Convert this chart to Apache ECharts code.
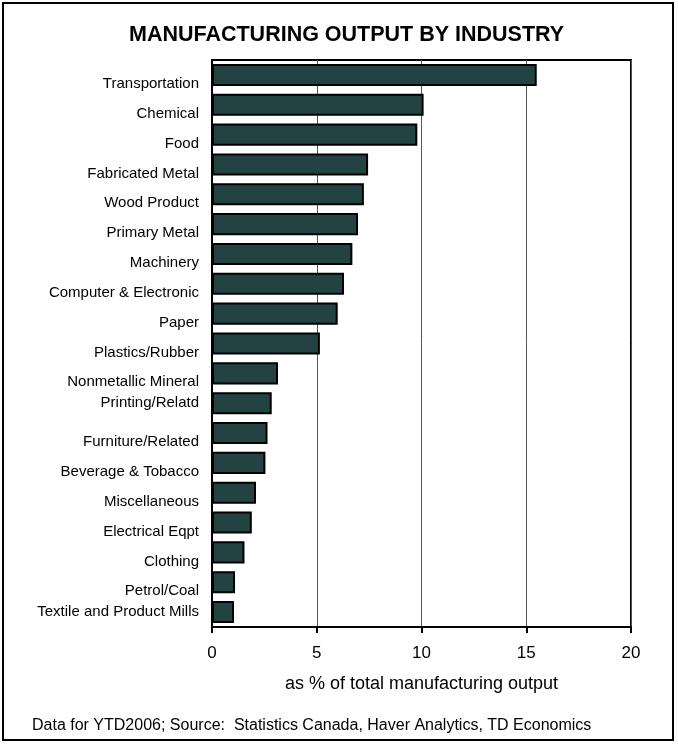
<!DOCTYPE html>
<html>
<head>
<meta charset="utf-8">
<script src="https://cdn.jsdelivr.net/npm/echarts@6/dist/echarts.min.js"></script>
<style>
  html, body { margin: 0; padding: 0; background: #fff; }
  #chart { width: 678px; height: 744px; }
</style>
</head>
<body>
<div id="chart"></div>
<script>
// Industries, largest share first
const industries = [
  'Transportation', 'Chemical', 'Food', 'Fabricated Metal', 'Wood Product',
  'Primary Metal', 'Machinery', 'Computer & Electronic', 'Paper', 'Plastics/Rubber',
  'Nonmetallic Mineral', 'Printing/Relatd', 'Furniture/Related', 'Beverage & Tobacco',
  'Miscellaneous', 'Electrical Eqpt', 'Clothing', 'Petrol/Coal', 'Textile and Product Mills'
];
// Share of total manufacturing output, %
const shares = [
  15.5, 10.1, 9.8, 7.45, 7.25,
  6.97, 6.7, 6.3, 6.0, 5.15,
  3.15, 2.85, 2.65, 2.55,
  2.1, 1.9, 1.55, 1.1, 1.05
];
// Labels that sit level with their bar; the rest sit a little lower
const levelLabels = ['Printing/Relatd', 'Textile and Product Mills'];
const xTicks = [0, 5, 10, 15, 20];

const titleText = 'MANUFACTURING OUTPUT BY INDUSTRY';
const xAxisTitle = 'as % of total manufacturing output';
const footnote = 'Data for YTD2006; Source:  Statistics Canada, Haver Analytics, TD Economics';

const FONT = '"Liberation Sans", Arial, sans-serif';
const chart = echarts.init(document.getElementById('chart'), null, { renderer: 'canvas' });

chart.setOption({
  animation: false,
  backgroundColor: '#ffffff',
  title: {
    text: titleText,
    left: 124,
    top: 19,
    textStyle: { fontFamily: FONT, fontSize: 21.5, fontWeight: 'bold', color: '#000' }
  },
  graphic: [
    {
      type: 'rect',
      shape: { x: 3, y: 3, width: 670, height: 737 },
      style: { fill: null, stroke: '#000', lineWidth: 2 },
      silent: true,
      z: -1
    },
    {
      type: 'text',
      left: 32,
      top: 718,
      style: { text: footnote, font: '16px ' + FONT, fill: '#000' }
    }
  ],
  grid: {
    left: 212, right: 47, top: 60, bottom: 117,
    show: true, borderColor: '#000', borderWidth: 2, backgroundColor: 'transparent'
  },
  xAxis: {
    type: 'value',
    min: xTicks[0],
    max: xTicks[xTicks.length - 1],
    interval: 5,
    name: xAxisTitle,
    nameLocation: 'middle',
    nameGap: 48,
    nameTextStyle: { fontFamily: FONT, fontSize: 18, color: '#000' },
    axisLine: { show: true, lineStyle: { color: '#000', width: 2 } },
    axisTick: { show: true, inside: false, length: 6, lineStyle: { color: '#000', width: 2 } },
    axisLabel: { fontFamily: FONT, fontSize: 17, color: '#000', margin: 18 },
    splitLine: { show: true, lineStyle: { color: '#555', width: 1 } }
  },
  yAxis: {
    type: 'category',
    data: industries,
    inverse: true,
    axisLine: { show: true, lineStyle: { color: '#000', width: 2 } },
    axisTick: { show: false },
    axisLabel: {
      interval: 0,
      margin: 13,
      fontFamily: FONT,
      fontSize: 15,
      color: '#000',
      formatter: function (v) {
        return (levelLabels.indexOf(v) >= 0 ? '{lv|' : '{lo|') + v + '}';
      },
      rich: {
        lv: { fontFamily: FONT, fontSize: 15, color: '#000' },
        lo: { fontFamily: FONT, fontSize: 15, color: '#000', padding: [18, 0, 0, 0] }
      }
    },
    splitLine: { show: false }
  },
  series: [{
    type: 'bar',
    data: shares,
    barCategoryGap: '26%',
    itemStyle: { color: '#234342', borderColor: '#000', borderWidth: 2 },
    silent: true
  }]
});
</script>
</body>
</html>
